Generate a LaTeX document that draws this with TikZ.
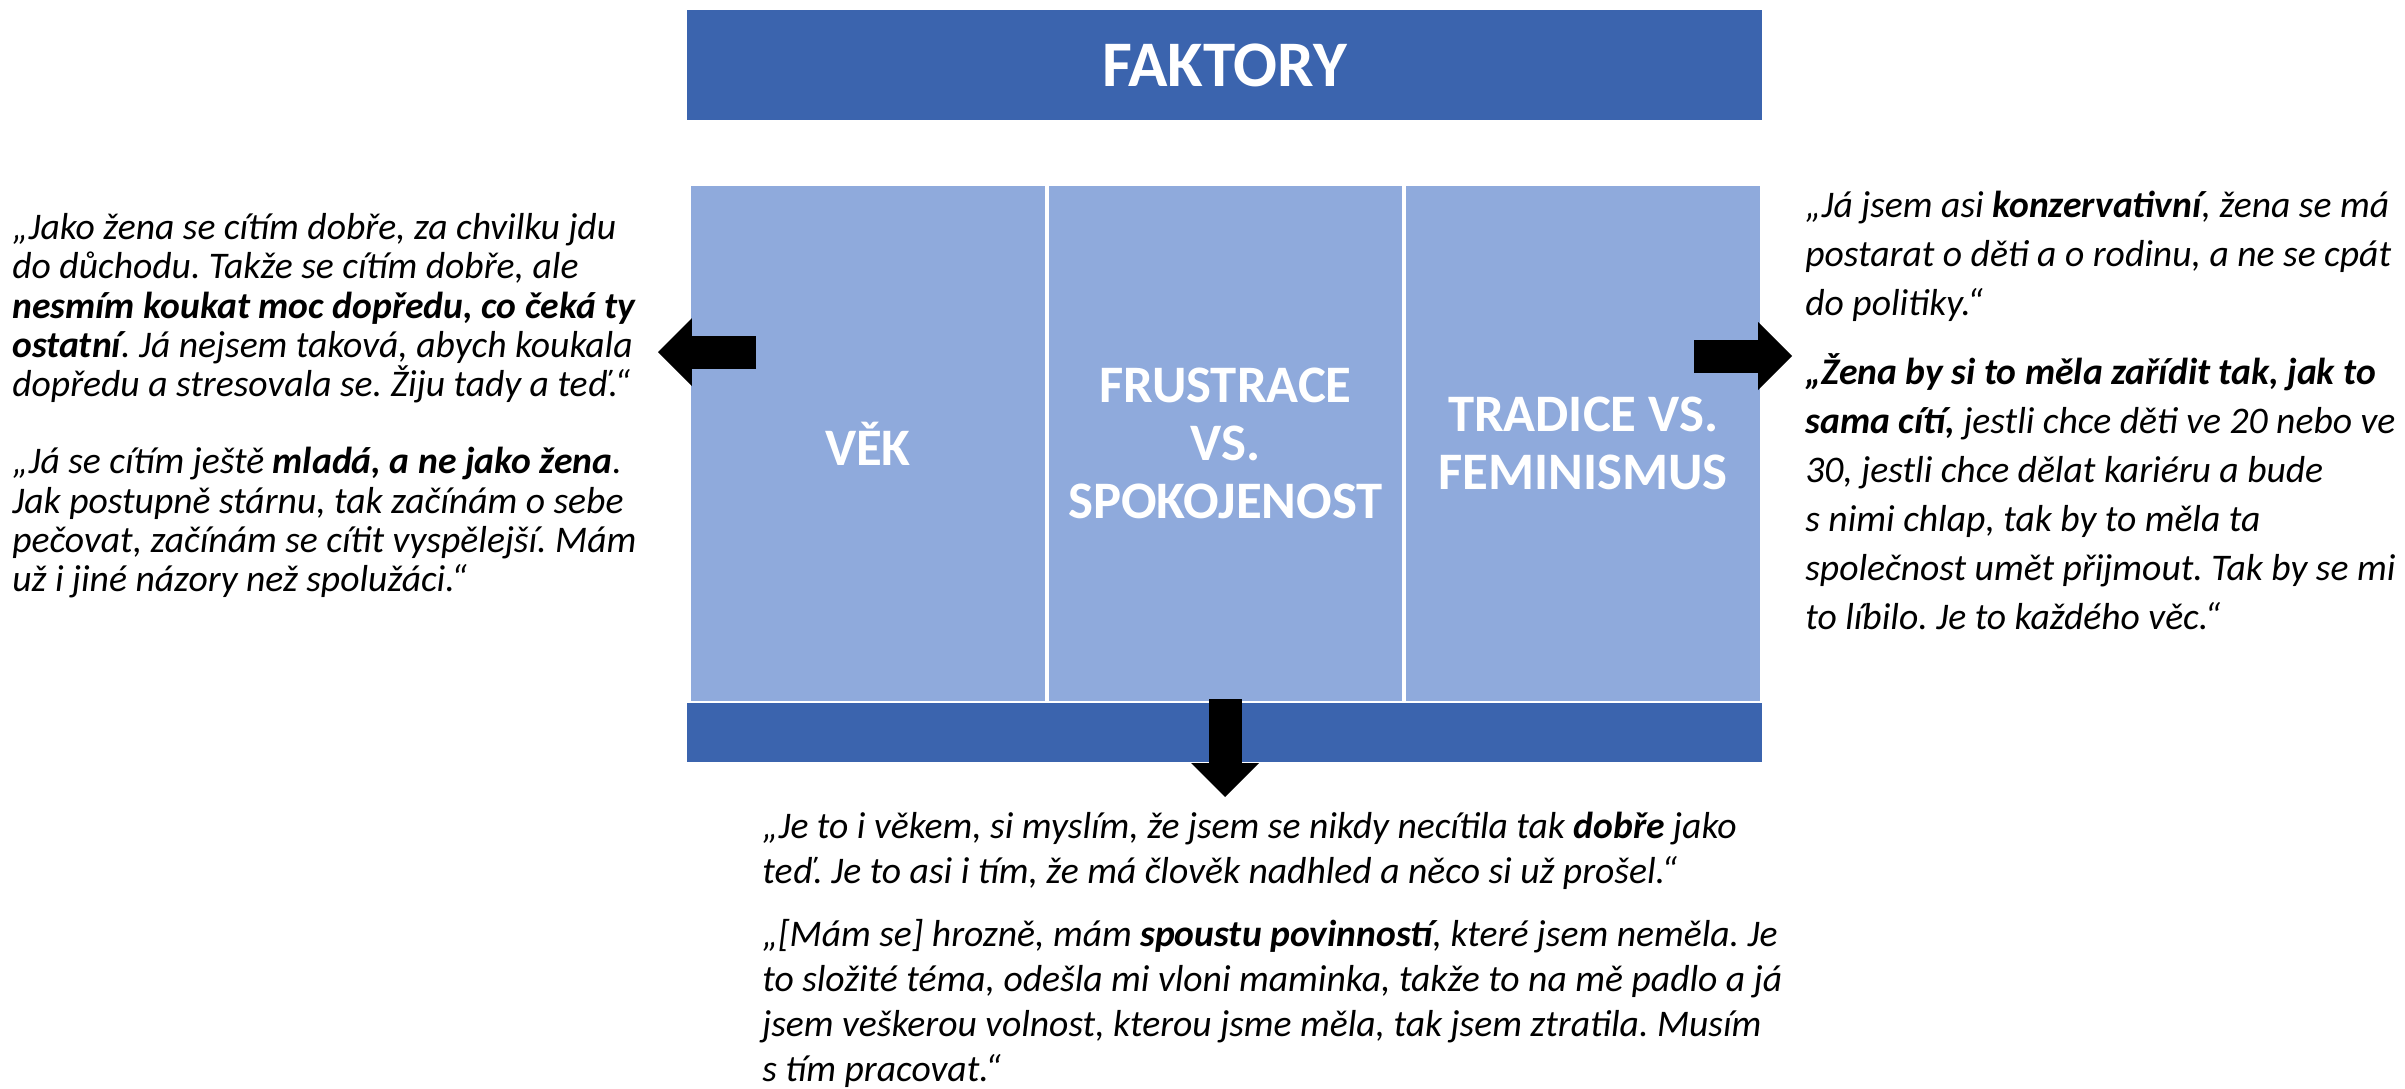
\documentclass[tikz,border=0pt]{standalone}
\usepackage{fontspec}
\setmainfont{Carlito}
\usetikzlibrary{arrows.meta,positioning}
\frenchspacing

\definecolor{bannerblue}{RGB}{59,100,174}
\definecolor{panelblue}{RGB}{143,170,220}

\begin{document}
\begin{tikzpicture}[x=0.02cm,y=-0.02cm,node distance=0.06cm,
  bannernode/.style={rectangle, fill=bannerblue, inner sep=0pt, minimum width=21.5cm, text=white},
  panelnode/.style={rectangle, fill=panelblue, inner sep=0pt, minimum width=7.08cm, minimum height=10.3cm, text=white, align=center, font=\bfseries\fontsize{30}{33}\selectfont},
  quotenode/.style={inner sep=0pt, align=left, anchor=north west},
  blockarrow/.style={line width=0.66cm, -{Triangle[width=1.36cm,length=0.68cm,line width=0pt]}}]
\useasboundingbox (0,0) rectangle (2405,1089);
%Nodes
\node[bannernode, minimum height=2.2cm, font=\bfseries\fontsize{37}{40}\selectfont] (faktory) at (1224.5,65) {FAKTORY};
\node[panelnode] (fru) at (1225.5,443.5) {FRUSTRACE\\VS.\\SPOKOJENOST};
\node[panelnode, left=of fru] (vek) {VĚK};
\node[panelnode, right=of fru] (tradice) {TRADICE VS.\\FEMINISMUS};
\node[bannernode, minimum height=1.18cm] (bar) at (1224.5,732.5) {};

%Quotes
\node[quotenode, font=\itshape\fontsize{21.4}{22.4}\selectfont] (vekquote) at (12,213) {„Jako žena se cítím dobře, za chvilku jdu\\
do důchodu. Takže se cítím dobře, ale\\
\textbf{nesmím koukat moc dopředu, co čeká ty}\\
\textbf{ostatní}. Já nejsem taková, abych koukala\\
dopředu a stresovala se. Žiju tady a teď.“\\[21.4pt]
„Já se cítím ještě \textbf{mladá, a ne jako žena}.\\
Jak postupně stárnu, tak začínám o sebe\\
pečovat, začínám se cítit vyspělejší. Mám\\
už i jiné názory než spolužáci.“};
\node[quotenode, font=\itshape\fontsize{21.4}{27.9}\selectfont] (tradquote) at (1805,191) {„Já jsem asi \textbf{konzervativní}, žena se má\\
postarat o děti a o rodinu, a ne se cpát\\
do politiky.“\\[11.4pt]
\textbf{„Žena by si to měla zařídit tak, jak to}\\
\textbf{sama cítí,} jestli chce děti ve 20 nebo ve\\
30, jestli chce dělat kariéru a bude\\
s nimi chlap, tak by to měla ta\\
společnost umět přijmout. Tak by se mi\\
to líbilo. Je to každého věc.“};
\node[quotenode, font=\itshape\fontsize{21.4}{25.6}\selectfont] (fruquote) at (762,812) {„Je to i věkem, si myslím, že jsem se nikdy necítila tak \textbf{dobře} jako\\
teď. Je to asi i tím, že má člověk nadhled a něco si už prošel.“\\[10pt]
„[Mám se] hrozně, mám \textbf{spoustu povinností}, které jsem neměla. Je\\
to složité téma, odešla mi vloni maminka, takže to na mě padlo a já\\
jsem veškerou volnost, kterou jsme měla, tak jsem ztratila. Musím\\
s tím pracovat.“};

%Arrows
\coordinate (vekout) at (756,352);
\coordinate (vekin) at (658,352);
\coordinate (tradout) at (1694,356);
\coordinate (tradin) at (1792,356);
\coordinate (fruout) at (1225,699);
\coordinate (fruin) at (1225,797);
\draw[blockarrow] (vekout) -- (vekin);
\draw[blockarrow] (tradout) -- (tradin);
\draw[blockarrow] (fruout) -- (fruin);
\end{tikzpicture}
\end{document}
